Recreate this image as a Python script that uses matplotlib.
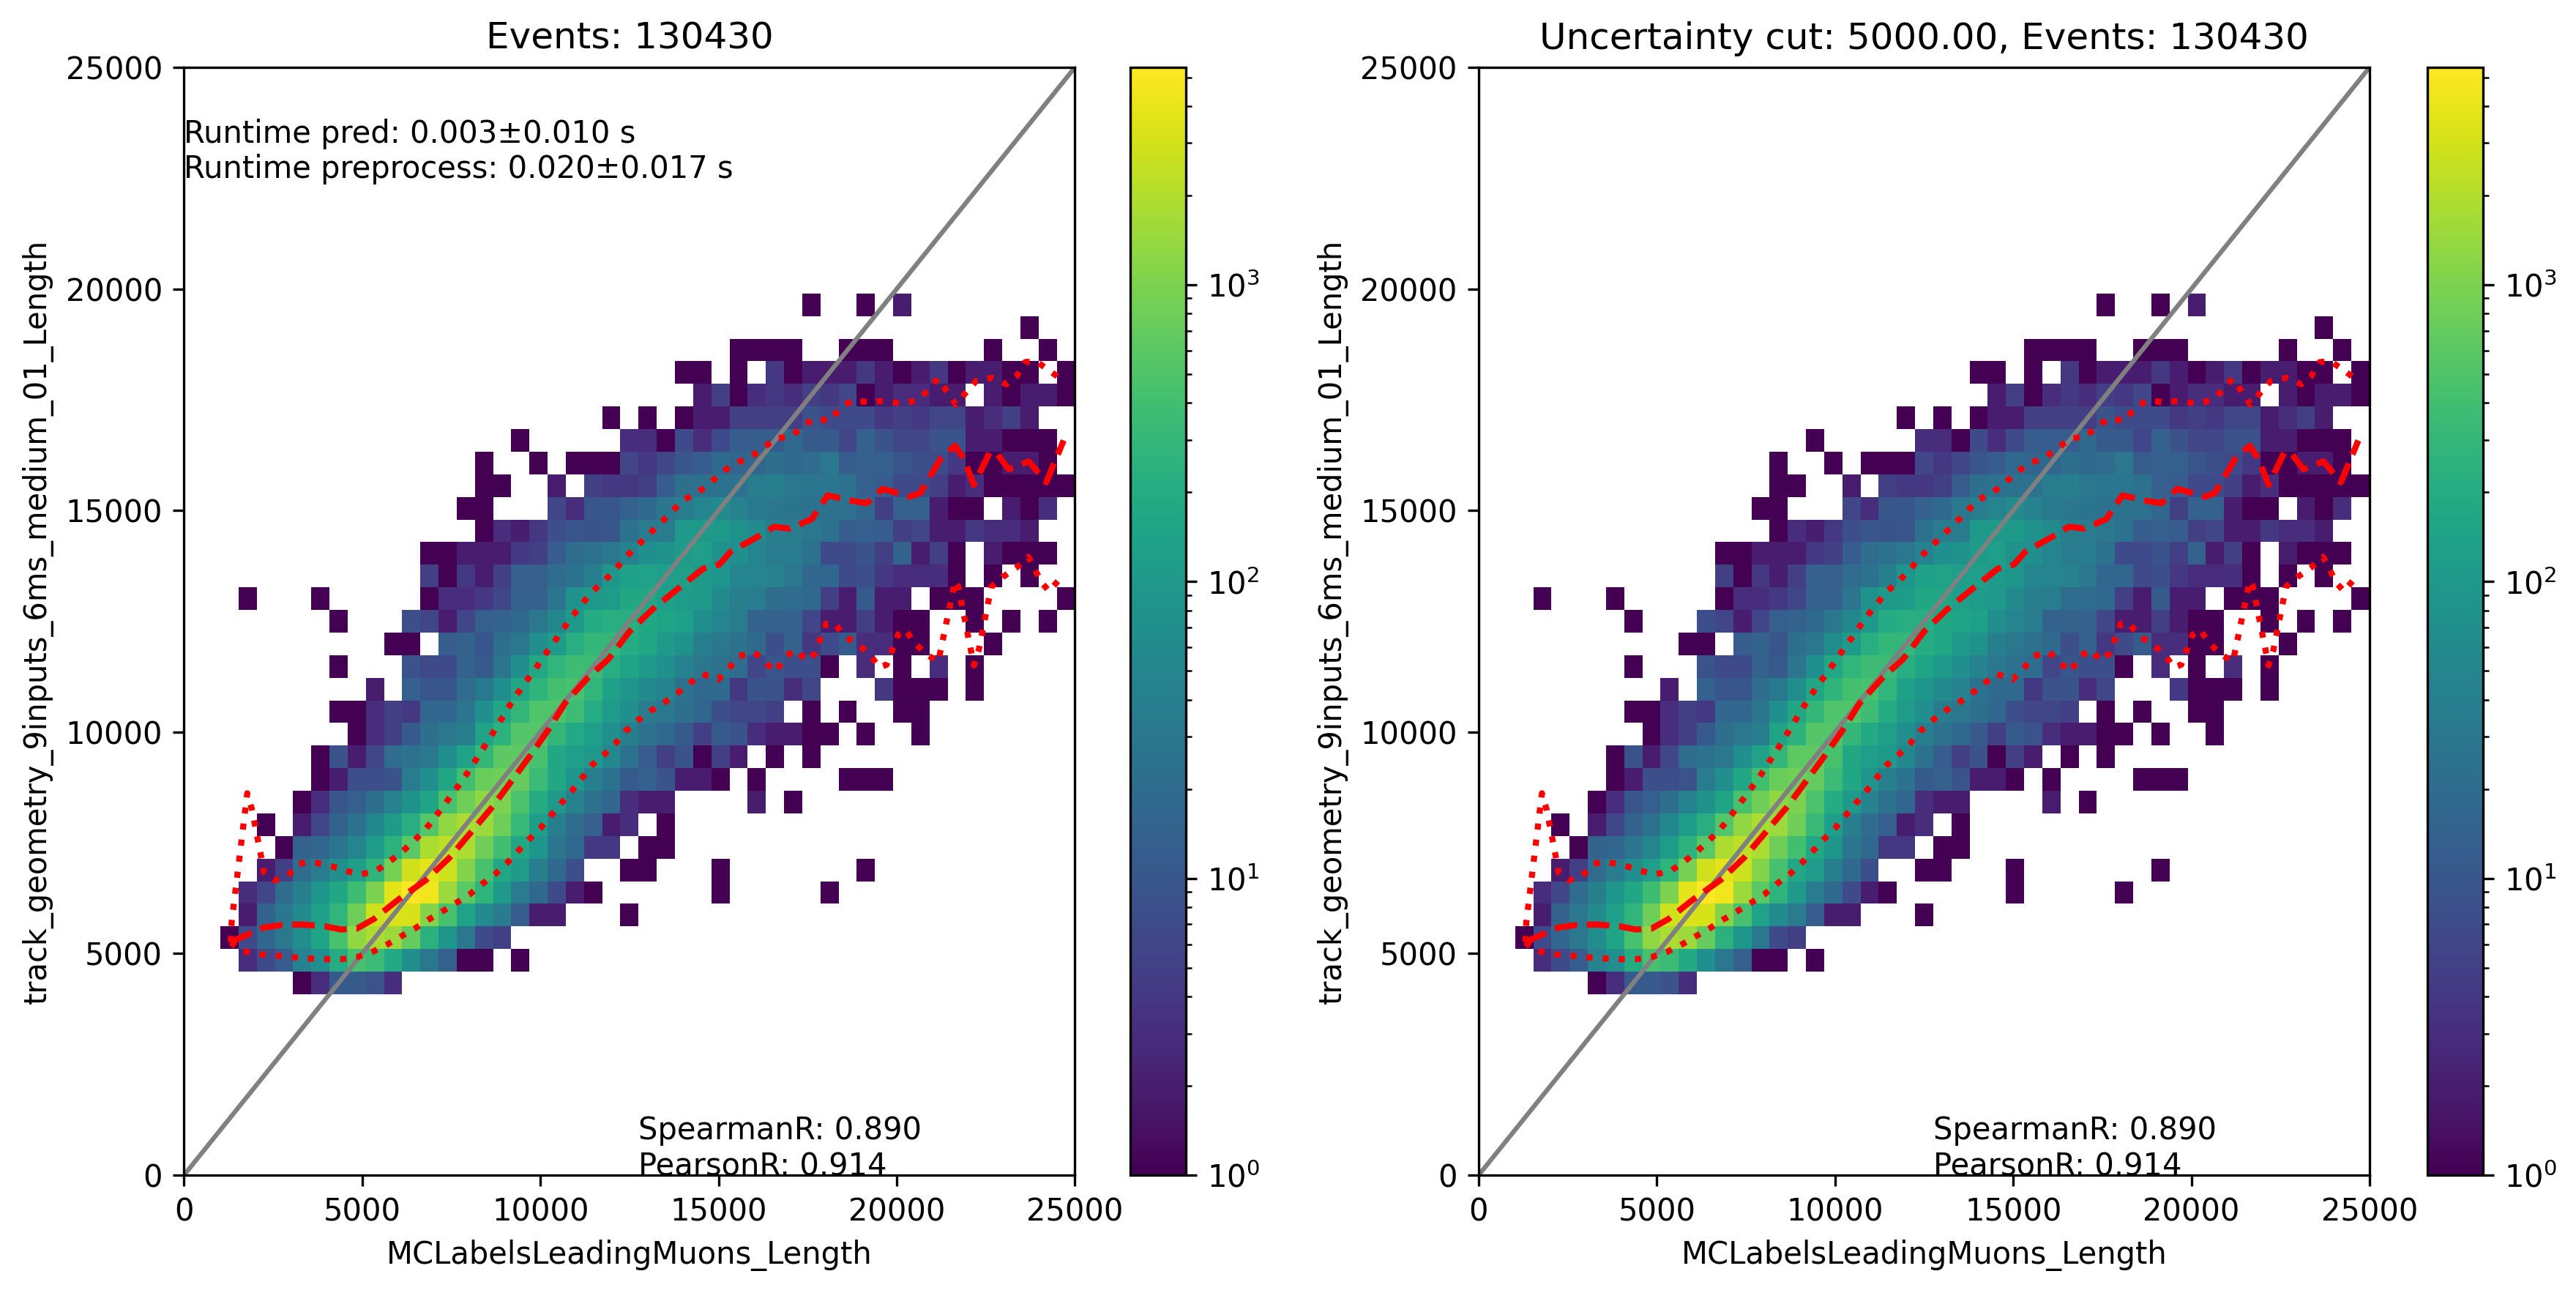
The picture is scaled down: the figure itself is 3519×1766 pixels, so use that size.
import numpy as np
import matplotlib
matplotlib.use("Agg")
import matplotlib.pyplot as plt
from matplotlib.colors import LogNorm

# Histogram counts by row (first column index, counts from that column on)
row_08 = (6, [1,3,11,11,9,3])
row_09 = (3, [3,7,12,45,70,200,450,350,180,70,30,13,1,1,0,1])
row_10 = (2, [1,7,17,30,65,150,450,1300,1800,1500,700,240,90,30,7,5])
row_11 = (3, [2,15,30,60,130,280,800,2800,3300,3200,1100,450,140,60,35,12,2,2,0,0,0,1])
row_12 = (3, [3,6,20,40,90,170,380,1000,3800,5400,4500,1500,600,270,100,35,18,7,2,1,0,0,0,0,0,0,1,0,0,0,0,0,1])
row_13 = (4, [2,5,20,35,70,120,270,900,2900,3800,2800,1100,450,170,110,40,18,8,0,0,1,1,0,0,0,1,0,0,0,0,0,0,0,1])
row_14 = (5, [1,15,17,28,50,110,250,600,1900,2300,1800,800,400,170,90,28,18,4,4,0,1,1])
row_15 = (4, [1,0,2,6,15,25,55,110,220,550,1300,1800,1500,800,330,120,40,20,13,2,3,0,1])
row_16 = (6, [1,3,10,13,22,45,80,150,450,800,1300,1000,480,200,100,45,25,17,3,2,2,0,0,0,0,2,0,1])
row_17 = (7, [1,2,8,8,9,35,70,170,400,750,850,700,350,170,90,40,25,11,14,9,2,2,1,0,1,0,0,0,0,1,1,1])
row_18 = (7, [1,9,2,6,20,25,30,70,140,300,650,650,450,170,120,100,55,25,12,5,9,1,5,2,0,1,0,1])
row_19 = (9, [1,3,5,11,22,30,40,150,250,550,550,300,180,120,70,40,25,18,11,5,11,9,3,2,2,1,1,0,1,0,0,1])
row_20 = (8, [1,1,3,5,4,17,17,28,70,170,300,500,500,380,200,110,70,35,30,22,17,8,6,6,5,0,1,0,1,0,0,1,1])
row_21 = (10, [2,0,14,10,10,20,32,65,160,270,420,450,280,130,90,60,45,25,18,18,4,9,9,3,6,0,0,0,4,1,1,1,0,1])
row_22 = (8, [1,0,0,0,9,7,7,15,11,28,70,170,280,380,350,220,150,100,70,45,30,25,20,6,10,8,8,1,0,3,0,1,0,3,0,1])
row_23 = (11, [1,1,0,12,15,10,22,30,65,110,220,300,300,200,170,100,80,40,30,25,18,8,15,4,7,11,3,3,1,1,0,0,0,1])
row_24 = (8, [1,0,0,0,8,6,2,6,13,15,18,30,55,100,200,220,220,170,150,130,70,50,35,15,15,14,6,2,2,5,2,1,1,0,0,1,0,1,0,1])
row_25 = (3, [1,0,0,0,1,0,0,0,0,0,1,3,3,4,6,14,14,28,80,100,110,170,170,120,110,100,60,40,35,20,20,18,5,2,11,2,2,0,1,1,1,0,0,0,0,1])
row_26 = (13, [5,1,4,2,5,13,13,20,25,40,90,130,140,120,120,100,90,50,50,45,30,17,17,7,8,4,3,3,3,1,0,1,0,1])
row_27 = (13, [1,1,2,2,2,4,5,12,20,25,30,45,70,80,110,120,80,70,50,35,35,25,7,7,9,5,15,2,5,1,0,2,1,1,1])
row_28 = (16, [1,3,2,4,8,10,9,10,25,35,35,100,100,100,80,60,40,35,30,25,12,13,12,5,6,2,2,4,3,3,2])
row_29 = (15, [1,1,0,0,0,6,3,10,10,14,18,30,35,50,60,45,32,30,27,25,25,25,17,5,14,14,2,1,1,0,2,1,3])
row_30 = (16, [1,1,0,0,2,0,5,4,4,5,12,22,25,25,25,35,40,30,28,28,25,13,12,7,7,5,2,3,1,1,1,1,1])
row_31 = (16, [1,0,0,1,0,1,1,1,6,4,6,10,12,18,16,17,22,18,20,30,12,13,13,10,8,7,4,1,1,2,2,1])
row_32 = (18, [1,0,0,0,0,0,3,3,1,7,3,7,12,12,12,18,11,11,6,14,9,6,6,9,9,2,2,1,1,1])
row_33 = (23, [1,0,1,0,1,2,2,5,5,5,5,9,7,7,7,4,5,4,6,6,2,3,5,2])
row_34 = (28, [2,5,1,3,4,3,5,4,6,1,2,3,3,2,2,0,2,1,2,2,1])
row_35 = (27, [1,1,0,1,0,4,1,2,2,2,4,2,1,2,4,1,2,2,1,1,0,1])
row_36 = (30, [1,1,1,1,0,0,1,1,1,0,0,0,0,0,1,0,0,1])
row_37 = (46, [1])
row_38 = (34, [1,0,0,1,0,2])
rows = {8: row_08, 9: row_09, 10: row_10, 11: row_11, 12: row_12, 13: row_13, 14: row_14,
        15: row_15, 16: row_16, 17: row_17, 18: row_18, 19: row_19, 20: row_20, 21: row_21,
        22: row_22, 23: row_23, 24: row_24, 25: row_25, 26: row_26, 27: row_27, 28: row_28,
        29: row_29, 30: row_30, 31: row_31, 32: row_32, 33: row_33, 34: row_34, 35: row_35,
        36: row_36, 37: row_37, 38: row_38}

median_x = [1311,1840,2245,2733,3304,3950,4400,4845,5331,6022,6793,7443,8053,8661,9190,9717,10245,10693,11342,11910,12501,13150,13881,14571,15018,15342,16074,16561,17008,17617,18063,18713,19159,19606,20378,20662,21231,21637,21881,22165,22612,22815,23140,23708,24196,24684]
median_y = [5258,5452,5589,5644,5655,5616,5544,5561,5782,6223,6663,7159,7737,8316,8894,9472,10077,10656,11234,11646,12270,12773,13247,13688,13778,14072,14396,14632,14590,14809,15341,15222,15164,15488,15311,15397,16167,16461,16167,15577,16314,16284,15930,16107,15635,16580]
low_x = [1311,1595,2123,2570,3057,3504,3951,4397,4844,5291,5697,6079,6469,6859,7240,7630,8012,8361,8727,9051,9368,9677,10002,10286,10578,10879,11155,11431,11772,12097,12381,12720,13086,13476,13841,14198,14548,14978,15287,15547,16010,16318,16603,16871,17155,17480,17699,17861,18024,18251,18527,18917,19242,19502,19713,19876,20038,20233,20501,20810,21167,21638,21720,22166,22304,22653,22978,23344,23693,23872,24075,24278,24570]
low_y = [5259,5066,4984,4956,4917,4890,4873,4873,4917,5039,5204,5385,5562,5766,5947,6140,6333,6569,6790,7032,7308,7572,7831,8106,8387,8668,8949,9240,9477,9731,10011,10254,10474,10667,10876,11104,11310,11181,11428,11711,11800,11564,11358,11700,11859,11605,11771,12107,12449,12461,12166,11977,11759,11458,11517,11859,12201,12313,12018,11759,11593,13411,13304,11505,11859,13275,13499,13700,13953,13676,13364,13175,13452]
high_x = [1311,1335,1774,1904,2164,2245,2529,2919,3220,3610,4056,4495,4909,5372,5738,6103,6436,6753,7037,7305,7581,7849,8093,8337,8580,8824,9051,9295,9555,9831,10083,10351,10611,10871,11155,11440,11772,12097,12381,12704,13029,13354,13679,13979,14385,14751,15076,15466,15872,16237,16586,17049,17374,17715,18130,18414,18755,19202,19648,20095,20542,20867,21151,21411,21663,21939,22231,22678,23084,23368,23604,23912,24278,24660]
high_y = [5259,5699,8618,8260,7186,6828,6652,6762,7032,7065,6994,6883,6784,6856,7060,7285,7533,7781,8067,8359,8657,8949,9251,9554,9868,10177,10490,10793,11096,11387,11694,11989,12290,12585,12874,13157,13393,13658,13936,14190,14443,14703,14957,15222,15387,15606,15853,16060,16195,16390,16626,16667,16921,17080,17021,17316,17482,17446,17476,17417,17476,17700,17977,17688,17387,17659,17924,17995,17848,18036,18349,18367,18160,17936]

x_label = "MCLabelsLeadingMuons_Length"
y_label = "track_geometry_9inputs_6ms_medium_01_Length"
title_left = "Events: 130430"
title_right = "Uncertainty cut: 5000.00, Events: 130430"
runtime_text = "Runtime pred: 0.003±0.010 s\nRuntime preprocess: 0.020±0.017 s"
corr_text = "SpearmanR: 0.890\nPearsonR: 0.914"
axis_max = 25000
n_edges = 50

edges = np.linspace(0, axis_max, n_edges)
counts = np.zeros((n_edges - 1, n_edges - 1))
for j, (start, vals) in rows.items():
    counts[j, start:start + len(vals)] = vals
masked = np.ma.masked_where(counts <= 0, counts)

W, H = 3520, 1766
DPI = 300
fig = plt.figure(figsize=(W / DPI, H / DPI), dpi=DPI)


def panel(ax_left, cb_left, title, with_runtime):
    ax = fig.add_axes([ax_left / W, (H - 1605) / H, 1217 / W, 1513 / H])
    cax = fig.add_axes([cb_left / W, (H - 1605) / H, 76 / W, 1513 / H])
    mesh = ax.pcolormesh(edges, edges, masked, cmap="viridis",
                         norm=LogNorm(vmin=1, vmax=counts.max()))
    ax.plot([0, axis_max], [0, axis_max], color="grey", lw=1.5)
    ax.plot(median_x, median_y, color="red", ls="--", lw=2)
    ax.plot(low_x, low_y, color="red", ls=":", lw=2)
    ax.plot(high_x, high_y, color="red", ls=":", lw=2)
    ax.set_xlim(0, axis_max)
    ax.set_ylim(0, axis_max)
    ax.set_xlabel(x_label)
    ax.set_ylabel(y_label)
    ax.set_title(title)
    if with_runtime:
        ax.text(0, 22500, runtime_text)
    ax.text(12750, 0, corr_text)
    fig.colorbar(mesh, cax=cax)


panel(251.4, 1544, title_left, True)
panel(2020, 3316, title_right, False)
fig.savefig("out.png", dpi=DPI)
